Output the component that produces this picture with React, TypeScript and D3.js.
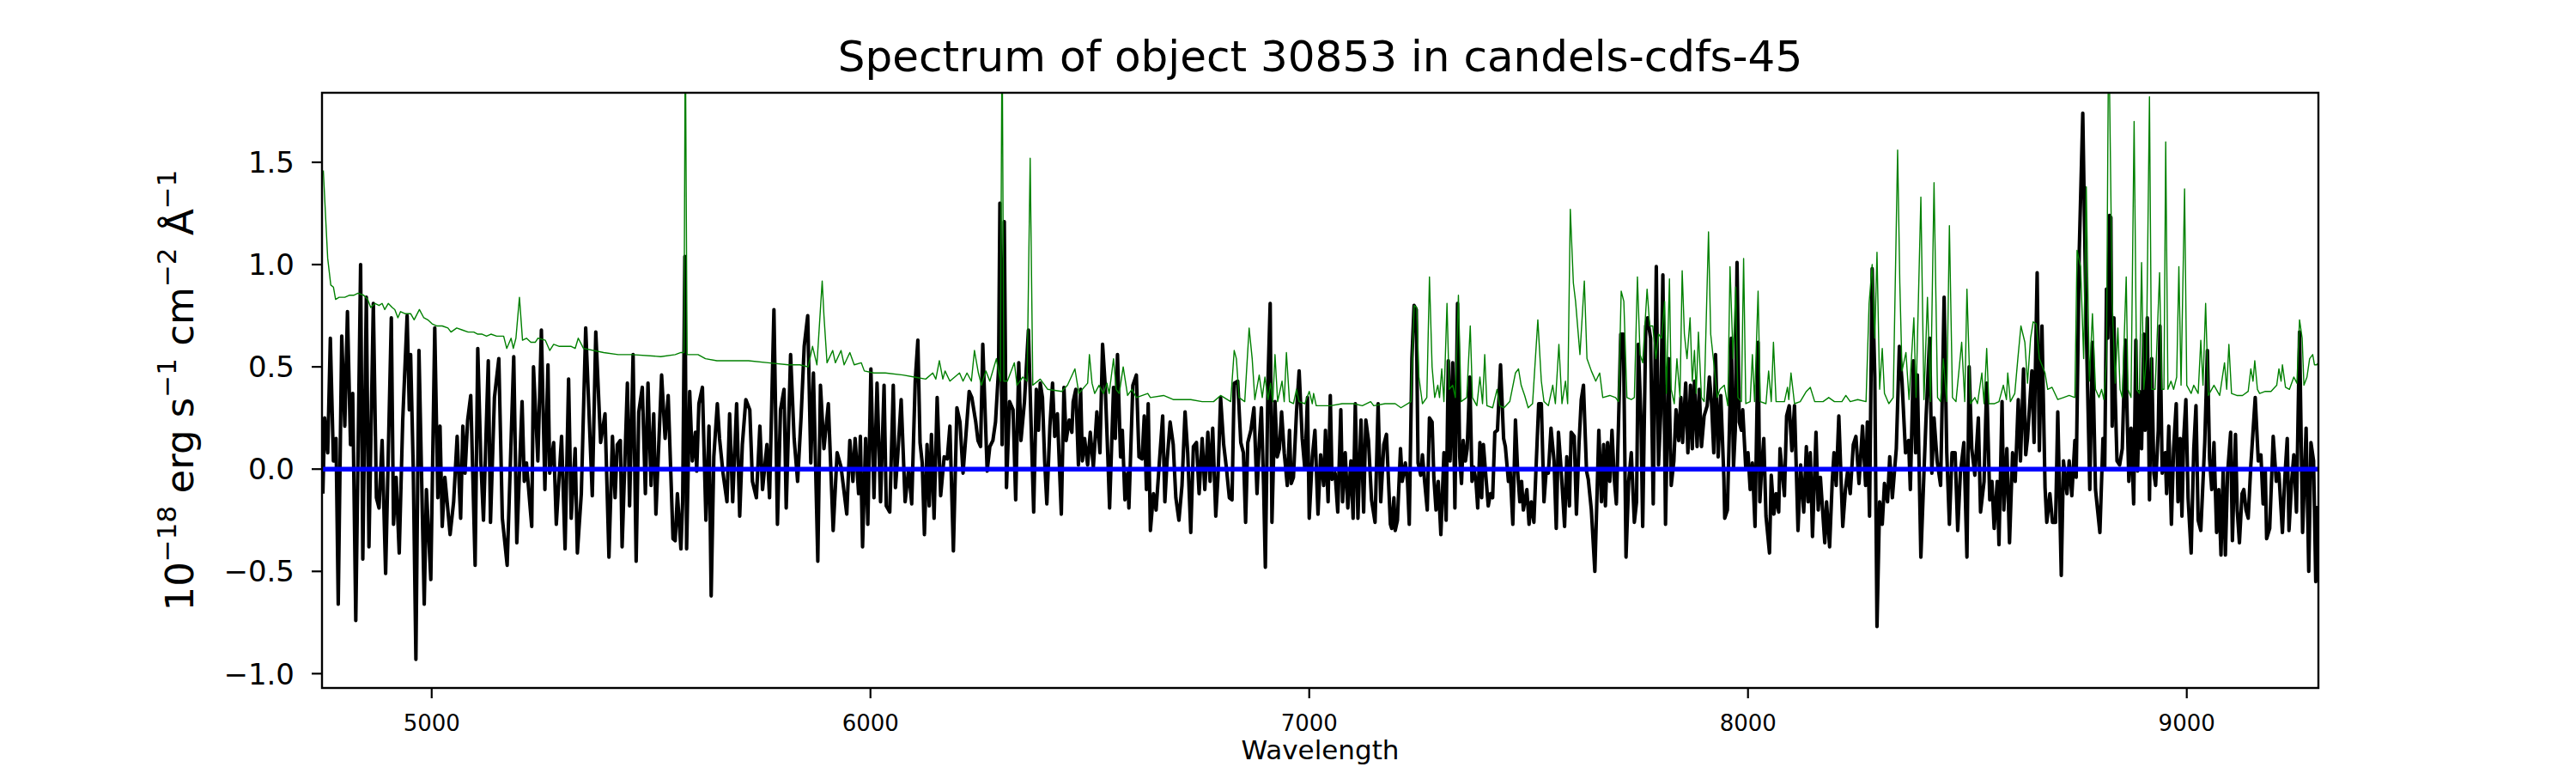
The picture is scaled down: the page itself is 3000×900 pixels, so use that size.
import * as React from "react";
import * as d3 from "d3";

// wavelength (Angstrom), flux (1e-18 erg/s/cm2/A)
const fluxSamples: [number, number][] = [
  [4752, -0.12], [4756, 0.25], [4763, 0.08], [4769, 0.64], [4776, 0.04], [4782, 0.15], [4787, -0.66], [4795, 0.65],
  [4802, 0.21], [4808, 0.77], [4815, 0.12], [4820, 0.37], [4827, -0.74], [4838, 1.0], [4843, -0.44], [4851, 0.84],
  [4857, -0.38], [4867, 0.81], [4874, -0.14], [4880, -0.19], [4887, 0.14], [4895, -0.51], [4908, 0.74], [4913, -0.27],
  [4919, -0.04], [4926, -0.41], [4934, 0.24], [4944, 0.75], [4949, 0.29], [4952, 0.56], [4958, 0.0], [4964, -0.93],
  [4971, 0.58], [4983, -0.66], [4988, -0.10], [4998, -0.54], [5007, 0.69], [5014, -0.14], [5019, 0.21], [5024, -0.28],
  [5030, -0.04], [5042, -0.32], [5050, -0.16], [5058, 0.16], [5066, -0.24], [5071, 0.21], [5076, -0.02], [5082, 0.24],
  [5089, 0.36], [5099, -0.47], [5105, 0.59], [5112, 0.04], [5118, -0.25], [5129, 0.53], [5134, -0.26], [5143, 0.35],
  [5153, 0.54], [5161, -0.24], [5172, -0.47], [5187, 0.55], [5194, -0.36], [5206, 0.33], [5211, -0.06], [5216, 0.03],
  [5228, -0.28], [5232, 0.50], [5242, 0.04], [5250, 0.68], [5258, -0.10], [5265, 0.51], [5269, -0.02], [5278, 0.13],
  [5284, -0.27], [5296, 0.16], [5304, -0.39], [5312, 0.44], [5318, -0.24], [5327, 0.10], [5332, -0.41], [5341, -0.12],
  [5351, 0.69], [5366, -0.13], [5374, 0.67], [5385, 0.13], [5395, 0.27], [5404, -0.43], [5412, 0.16], [5418, -0.14],
  [5423, 0.12], [5430, 0.14], [5434, -0.38], [5446, 0.42], [5451, -0.18], [5459, 0.56], [5466, -0.45], [5472, 0.28],
  [5480, 0.40], [5487, -0.12], [5493, 0.42], [5500, -0.08], [5506, 0.27], [5511, -0.22], [5524, 0.46], [5532, 0.15],
  [5539, 0.36], [5550, -0.34], [5555, -0.35], [5560, -0.12], [5568, -0.39], [5572, -0.16], [5577, 1.04], [5581, -0.39],
  [5588, 0.38], [5594, 0.04], [5601, 0.18], [5604, -0.01], [5609, 0.32], [5617, 0.40], [5625, -0.25], [5632, 0.21],
  [5637, -0.62], [5643, 0.06], [5651, 0.32], [5656, 0.15], [5664, -0.02], [5673, -0.16], [5679, 0.27], [5686, -0.16],
  [5695, 0.32], [5702, -0.23], [5708, 0.12], [5716, 0.34], [5725, 0.29], [5731, -0.06], [5740, -0.14], [5748, 0.21],
  [5754, -0.10], [5764, 0.12], [5770, -0.14], [5780, 0.78], [5788, -0.27], [5795, 0.29], [5803, 0.39], [5808, -0.19],
  [5818, 0.56], [5826, 0.15], [5834, -0.06], [5842, 0.26], [5849, 0.60], [5857, 0.75], [5864, 0.03], [5870, 0.47],
  [5880, -0.45], [5886, 0.41], [5894, 0.10], [5904, 0.32], [5915, -0.30], [5924, 0.08], [5933, 0.01], [5946, -0.22],
  [5953, 0.14], [5960, -0.06], [5965, 0.15], [5973, -0.12], [5977, 0.16], [5982, -0.38], [5989, 0.15], [5994, -0.27],
  [6001, 0.49], [6008, -0.14], [6015, 0.42], [6023, -0.16], [6031, 0.41], [6036, -0.18], [6044, -0.21], [6052, 0.41],
  [6057, -0.09], [6062, 0.06], [6070, 0.34], [6079, -0.16], [6087, 0.0], [6094, -0.17], [6102, 0.43], [6108, 0.63],
  [6113, 0.13], [6118, 0.03], [6123, -0.32], [6129, 0.12], [6134, -0.18], [6139, 0.17], [6145, -0.24], [6152, 0.35],
  [6160, -0.13], [6168, 0.06], [6175, 0.05], [6181, 0.21], [6189, -0.40], [6197, 0.30], [6204, 0.23], [6211, -0.02],
  [6217, 0.15], [6225, 0.38], [6231, 0.35], [6240, 0.23], [6245, 0.14], [6251, 0.11], [6256, 0.61], [6266, -0.01],
  [6272, 0.11], [6279, 0.14], [6285, 0.23], [6292, 0.49], [6295, 1.30], [6300, 0.12], [6305, 1.21], [6310, -0.09],
  [6317, 0.33], [6325, 0.29], [6331, -0.15], [6338, 0.52], [6343, 0.14], [6351, 0.33], [6360, 0.68], [6367, 0.15],
  [6372, -0.21], [6378, 0.39], [6383, 0.19], [6387, 0.42], [6392, 0.35], [6397, 0.04], [6402, -0.17], [6409, 0.21],
  [6415, 0.42], [6420, 0.16], [6426, 0.27], [6435, -0.22], [6441, 0.40], [6446, 0.14], [6453, 0.24], [6459, 0.18],
  [6462, 0.33], [6468, 0.39], [6474, 0.02], [6479, 0.39], [6483, 0.04], [6488, 0.15], [6495, 0.02], [6501, 0.18],
  [6508, 0.01], [6516, 0.28], [6523, 0.08], [6529, 0.61], [6535, 0.41], [6541, 0.06], [6545, -0.19], [6554, 0.40],
  [6558, 0.15], [6563, 0.56], [6570, 0.06], [6574, 0.19], [6580, -0.15], [6586, -0.02], [6589, -0.19], [6598, 0.41],
  [6606, 0.46], [6612, 0.06], [6619, 0.05], [6624, 0.26], [6629, -0.10], [6633, 0.32], [6638, -0.30], [6645, -0.12],
  [6651, -0.20], [6658, 0.02], [6666, 0.26], [6671, -0.16], [6676, 0.04], [6683, 0.23], [6690, 0.12], [6696, -0.14],
  [6703, -0.25], [6710, -0.08], [6717, 0.28], [6723, 0.08], [6730, -0.31], [6736, 0.11], [6743, 0.13], [6749, -0.12],
  [6756, 0.15], [6762, -0.10], [6769, 0.18], [6774, -0.06], [6780, 0.20], [6787, -0.23], [6792, -0.04], [6798, 0.35],
  [6805, 0.12], [6811, 0.01], [6818, -0.14], [6824, -0.15], [6829, 0.42], [6837, 0.43], [6844, 0.13], [6850, 0.08],
  [6855, -0.26], [6860, 0.13], [6867, 0.19], [6874, 0.30], [6881, -0.12], [6886, 0.13], [6891, 0.30], [6896, -0.08],
  [6900, -0.48], [6906, 0.43], [6911, 0.81], [6915, -0.26], [6922, 0.33], [6927, 0.06], [6932, 0.10], [6937, 0.28],
  [6943, 0.08], [6950, -0.08], [6955, 0.19], [6959, -0.07], [6964, -0.04], [6971, 0.28], [6977, 0.48], [6984, 0.15],
  [6990, 0.0], [6996, 0.35], [7000, -0.24], [7007, 0.06], [7013, 0.19], [7020, -0.22], [7026, 0.07], [7033, -0.08],
  [7037, 0.19], [7043, -0.16], [7048, 0.36], [7052, -0.05], [7059, -0.02], [7065, -0.21], [7072, 0.29], [7076, -0.16],
  [7082, 0.08], [7088, -0.19], [7095, 0.04], [7100, -0.24], [7105, 0.32], [7111, -0.24], [7118, 0.24], [7124, -0.21],
  [7129, 0.24], [7135, 0.14], [7142, -0.15], [7150, -0.26], [7157, 0.32], [7163, -0.16], [7170, 0.12], [7176, 0.17],
  [7185, -0.27], [7188, -0.29], [7193, -0.14], [7196, -0.30], [7201, -0.25], [7208, 0.10], [7212, -0.06], [7219, 0.03],
  [7224, -0.06], [7228, -0.27], [7234, 0.54], [7239, 0.80], [7244, 0.78], [7248, 0.03], [7254, -0.03], [7258, 0.07],
  [7263, -0.06], [7269, -0.20], [7274, 0.25], [7280, 0.23], [7284, -0.04], [7289, -0.20], [7294, -0.06], [7300, -0.32],
  [7307, 0.08], [7312, -0.25], [7317, 0.53], [7321, 0.04], [7327, 0.52], [7332, -0.19], [7338, 0.81], [7343, 0.06],
  [7347, -0.07], [7351, 0.14], [7356, 0.04], [7360, 0.10], [7366, 0.45], [7371, -0.06], [7375, 0.01], [7380, -0.06],
  [7384, -0.19], [7389, 0.13], [7393, -0.14], [7397, 0.12], [7402, -0.02], [7408, -0.18], [7413, -0.12], [7418, -0.14],
  [7423, 0.18], [7429, 0.19], [7436, 0.51], [7443, 0.15], [7447, 0.11], [7454, -0.06], [7458, -0.01], [7464, -0.27],
  [7470, 0.24], [7475, -0.01], [7480, -0.16], [7484, -0.06], [7488, -0.20], [7496, -0.10], [7501, -0.27], [7506, -0.16],
  [7512, -0.26], [7517, 0.01], [7523, 0.32], [7529, 0.32], [7535, -0.16], [7540, -0.01], [7545, -0.02], [7551, 0.20],
  [7558, 0.04], [7563, -0.29], [7568, 0.18], [7574, 0.0], [7582, -0.28], [7587, 0.06], [7593, -0.18], [7597, 0.18],
  [7604, 0.16], [7609, -0.22], [7615, 0.13], [7620, 0.34], [7625, 0.41], [7632, -0.01], [7636, -0.05], [7643, -0.20],
  [7651, -0.50], [7656, -0.12], [7660, 0.19], [7666, -0.16], [7671, 0.12], [7675, -0.18], [7680, 0.13], [7685, -0.06],
  [7690, 0.19], [7695, -0.04], [7700, -0.17], [7705, 0.23], [7710, 0.66], [7716, 0.66], [7722, -0.43], [7728, -0.06],
  [7734, 0.08], [7741, -0.26], [7746, -0.16], [7750, 0.61], [7756, 0.25], [7760, -0.28], [7767, 0.70], [7771, 0.74],
  [7778, 0.64], [7784, -0.17], [7791, 0.99], [7796, 0.02], [7801, 0.27], [7806, 0.95], [7812, -0.27], [7819, 0.54],
  [7825, -0.08], [7831, 0.04], [7836, 0.29], [7842, 0.14], [7847, 0.35], [7851, 0.13], [7858, 0.42], [7863, 0.08],
  [7869, 0.41], [7873, 0.10], [7878, 0.43], [7884, 0.11], [7889, 0.39], [7894, 0.11], [7900, 0.26], [7907, 0.31],
  [7912, 0.45], [7917, 0.32], [7922, 0.08], [7926, 0.56], [7932, 0.06], [7938, 0.36], [7945, -0.04], [7947, -0.24],
  [7953, -0.20], [7958, 0.23], [7962, 0.64], [7967, 0.01], [7971, 0.19], [7975, 1.01], [7980, 0.23], [7985, 0.19],
  [7988, 0.29], [7995, 0.0], [8000, 0.08], [8005, -0.10], [8010, 0.03], [8016, -0.28], [8023, 0.62], [8027, -0.16],
  [8031, 0.0], [8036, 0.15], [8041, -0.23], [8049, -0.41], [8053, -0.03], [8059, -0.22], [8064, -0.12], [8070, -0.21],
  [8073, 0.10], [8083, -0.13], [8088, 0.26], [8094, 0.31], [8100, 0.09], [8106, 0.31], [8114, -0.30], [8120, 0.02],
  [8127, -0.21], [8133, 0.11], [8137, -0.16], [8142, 0.08], [8147, -0.33], [8155, 0.18], [8160, -0.20], [8165, -0.04],
  [8175, -0.36], [8179, -0.16], [8186, -0.38], [8192, -0.06], [8196, 0.08], [8201, -0.08], [8207, 0.26], [8216, -0.28],
  [8222, -0.10], [8227, -0.01], [8233, -0.12], [8240, 0.12], [8246, 0.16], [8253, -0.07], [8261, 0.21], [8268, -0.08],
  [8272, 0.23], [8277, -0.23], [8283, 0.98], [8289, 0.45], [8294, -0.77], [8300, -0.16], [8306, -0.27], [8311, -0.07],
  [8318, -0.16], [8323, 0.06], [8329, -0.14], [8338, 0.10], [8345, 0.60], [8351, 0.43], [8359, 0.08], [8366, 0.14],
  [8370, -0.10], [8377, 0.53], [8382, 0.08], [8386, 0.46], [8394, -0.43], [8401, -0.02], [8406, 0.26], [8414, 0.64],
  [8419, -0.02], [8424, 0.25], [8431, 0.04], [8439, -0.08], [8447, 0.84], [8453, 0.08], [8459, -0.27], [8465, 0.08],
  [8472, 0.08], [8478, -0.30], [8484, -0.02], [8492, 0.13], [8499, -0.43], [8504, 0.50], [8510, 0.10], [8517, -0.03],
  [8525, 0.25], [8530, -0.21], [8538, -0.06], [8544, 0.42], [8551, -0.15], [8556, -0.06], [8561, -0.29], [8568, -0.06],
  [8572, -0.37], [8579, 0.33], [8583, -0.20], [8590, 0.10], [8596, -0.36], [8603, 0.08], [8609, -0.06], [8616, 0.34],
  [8621, 0.04], [8628, 0.49], [8633, 0.07], [8637, 0.15], [8643, 0.35], [8647, 0.48], [8652, 0.13], [8659, 0.96],
  [8664, 0.09], [8670, 0.70], [8677, -0.09], [8681, -0.26], [8688, -0.12], [8694, -0.26], [8701, -0.26], [8706, 0.28],
  [8714, -0.52], [8719, 0.04], [8727, -0.12], [8732, 0.04], [8738, -0.13], [8745, 0.14], [8748, -0.04], [8755, 1.07],
  [8763, 1.74], [8770, 0.79], [8779, -0.10], [8785, 0.62], [8792, -0.10], [8802, -0.31], [8809, 0.15], [8813, 0.0],
  [8817, 0.88], [8820, 0.64], [8824, 1.24], [8827, 1.23], [8830, 0.21], [8834, 0.74], [8837, 0.35], [8841, 0.04],
  [8847, 0.02], [8853, 0.10], [8860, 0.63], [8865, 0.19], [8868, -0.06], [8873, 0.20], [8879, -0.17], [8884, 0.63],
  [8888, -0.01], [8892, 0.38], [8897, 0.10], [8902, 0.66], [8905, 0.19], [8910, 0.74], [8915, -0.15], [8920, 0.54],
  [8925, -0.02], [8929, -0.08], [8935, 0.19], [8939, 0.70], [8944, -0.02], [8951, 0.08], [8954, -0.12], [8959, 0.21],
  [8965, -0.27], [8970, 0.10], [8976, 0.32], [8980, -0.16], [8985, 0.15], [8989, -0.23], [8993, 0.15], [8998, 0.34],
  [9003, -0.14], [9010, -0.41], [9016, 0.10], [9021, 0.31], [9026, -0.25], [9032, -0.30], [9041, 0.13], [9047, 0.58],
  [9052, 0.05], [9057, -0.10], [9062, 0.13], [9068, -0.31], [9073, -0.10], [9078, -0.42], [9083, 0.0], [9088, -0.42],
  [9093, -0.02], [9100, 0.18], [9104, -0.35], [9111, 0.17], [9115, -0.20], [9120, -0.36], [9126, -0.12], [9130, -0.10],
  [9135, -0.20], [9140, -0.24], [9146, 0.02], [9150, 0.15], [9156, 0.35], [9163, 0.04], [9169, 0.07], [9174, -0.17],
  [9179, -0.01], [9182, -0.34], [9189, -0.29], [9197, 0.16], [9204, -0.06], [9210, -0.02], [9218, -0.31], [9223, -0.06],
  [9229, 0.15], [9233, -0.30], [9239, -0.06], [9244, 0.07], [9250, -0.21], [9257, 0.67], [9264, -0.31], [9272, 0.20],
  [9278, -0.50], [9283, 0.13], [9289, 0.04], [9294, -0.55], [9299, -0.18],
];

// green curve (noise / sky), same units
const noiseSamples: [number, number][] = [
  [4753, 1.46], [4759, 1.2], [4763, 1.03], [4770, 0.90], [4776, 0.89], [4781, 0.83], [4789, 0.84], [4802, 0.84],
  [4812, 0.85], [4822, 0.85], [4832, 0.86], [4845, 0.85], [4854, 0.83], [4861, 0.79], [4871, 0.81], [4880, 0.80],
  [4887, 0.81], [4893, 0.78], [4901, 0.81], [4910, 0.79], [4916, 0.78], [4923, 0.74], [4929, 0.77], [4939, 0.76],
  [4952, 0.76], [4960, 0.73], [4972, 0.78], [4982, 0.74], [4991, 0.73], [5001, 0.71], [5011, 0.70], [5024, 0.70],
  [5037, 0.69], [5044, 0.67], [5057, 0.69], [5070, 0.68], [5083, 0.67], [5096, 0.67], [5105, 0.66], [5115, 0.66],
  [5125, 0.65], [5135, 0.66], [5148, 0.65], [5164, 0.65], [5171, 0.59], [5181, 0.64], [5186, 0.59], [5192, 0.64],
  [5200, 0.84], [5207, 0.63], [5216, 0.64], [5226, 0.62], [5236, 0.62], [5242, 0.64], [5259, 0.63], [5269, 0.58],
  [5278, 0.61], [5291, 0.60], [5318, 0.60], [5327, 0.59], [5334, 0.64], [5346, 0.59], [5392, 0.57], [5425, 0.56],
  [5457, 0.56], [5522, 0.55], [5555, 0.56], [5568, 0.57], [5575, 0.57], [5578, 2.2], [5582, 0.56], [5591, 0.56],
  [5607, 0.56], [5624, 0.54], [5650, 0.53], [5682, 0.53], [5722, 0.53], [5767, 0.52], [5813, 0.51], [5839, 0.51],
  [5858, 0.50], [5868, 0.60], [5878, 0.51], [5890, 0.92], [5894, 0.75], [5901, 0.52], [5914, 0.58], [5920, 0.52],
  [5933, 0.58], [5940, 0.51], [5953, 0.57], [5963, 0.51], [5979, 0.52], [5986, 0.48], [6008, 0.47], [6034, 0.47],
  [6074, 0.46], [6100, 0.45], [6126, 0.44], [6142, 0.47], [6149, 0.44], [6157, 0.53], [6165, 0.44], [6170, 0.48],
  [6181, 0.43], [6203, 0.47], [6211, 0.43], [6220, 0.47], [6230, 0.43], [6237, 0.58], [6246, 0.47], [6253, 0.41],
  [6263, 0.48], [6272, 0.43], [6287, 0.54], [6296, 0.43], [6300, 2.2], [6304, 0.43], [6312, 0.43], [6328, 0.52],
  [6334, 0.41], [6347, 0.45], [6357, 0.43], [6364, 1.52], [6370, 0.41], [6387, 0.44], [6404, 0.39], [6436, 0.38],
  [6449, 0.41], [6466, 0.49], [6475, 0.37], [6495, 0.42], [6499, 0.56], [6505, 0.42], [6511, 0.37], [6521, 0.41],
  [6531, 0.37], [6539, 0.42], [6544, 0.37], [6554, 0.54], [6560, 0.39], [6567, 0.37], [6576, 0.50], [6586, 0.36],
  [6596, 0.39], [6606, 0.35], [6632, 0.37], [6638, 0.35], [6668, 0.36], [6690, 0.34], [6730, 0.34], [6756, 0.33],
  [6782, 0.33], [6798, 0.36], [6821, 0.33], [6829, 0.58], [6834, 0.54], [6840, 0.35], [6853, 0.33], [6863, 0.69],
  [6870, 0.54], [6876, 0.34], [6886, 0.46], [6893, 0.35], [6899, 0.45], [6906, 0.34], [6912, 0.42], [6917, 0.33],
  [6922, 0.56], [6928, 0.33], [6938, 0.43], [6943, 0.33], [6948, 0.57], [6955, 0.33], [6964, 0.32], [6971, 0.39],
  [6977, 0.33], [6990, 0.32], [7000, 0.38], [7007, 0.32], [7010, 0.37], [7016, 0.31], [7049, 0.31], [7075, 0.32],
  [7101, 0.32], [7121, 0.31], [7140, 0.33], [7147, 0.31], [7173, 0.32], [7196, 0.32], [7209, 0.30], [7232, 0.33],
  [7239, 0.80], [7245, 0.79], [7250, 0.45], [7258, 0.32], [7268, 0.35], [7274, 0.94], [7280, 0.50], [7286, 0.35],
  [7293, 0.41], [7297, 0.35], [7302, 0.49], [7307, 0.33], [7314, 0.81], [7319, 0.39], [7327, 0.41], [7333, 0.35],
  [7340, 0.85], [7346, 0.33], [7359, 0.35], [7367, 0.70], [7372, 0.35], [7382, 0.31], [7389, 0.45], [7395, 0.32],
  [7400, 0.56], [7405, 0.31], [7418, 0.30], [7428, 0.39], [7434, 0.31], [7444, 0.30], [7457, 0.33], [7470, 0.47],
  [7477, 0.49], [7483, 0.41], [7491, 0.36], [7499, 0.30], [7509, 0.32], [7521, 0.73], [7529, 0.43], [7535, 0.33],
  [7545, 0.31], [7555, 0.41], [7561, 0.32], [7569, 0.61], [7576, 0.32], [7584, 0.43], [7589, 0.32], [7595, 1.27],
  [7602, 0.91], [7607, 0.82], [7617, 0.56], [7627, 0.92], [7633, 0.54], [7643, 0.48], [7653, 0.43], [7662, 0.47],
  [7669, 0.35], [7685, 0.36], [7698, 0.35], [7705, 0.33], [7711, 0.87], [7717, 0.82], [7724, 0.35], [7734, 0.34],
  [7741, 0.35], [7748, 0.94], [7754, 0.56], [7760, 0.52], [7770, 0.88], [7776, 0.70], [7783, 0.70], [7790, 0.54],
  [7796, 0.66], [7803, 0.64], [7810, 0.82], [7814, 0.37], [7821, 0.93], [7825, 0.39], [7832, 0.32], [7838, 0.54],
  [7845, 0.35], [7850, 0.97], [7855, 0.66], [7861, 0.54], [7868, 0.74], [7873, 0.43], [7878, 0.58], [7882, 0.37],
  [7887, 0.67], [7894, 0.35], [7900, 0.33], [7910, 1.16], [7915, 0.66], [7923, 0.50], [7930, 0.35], [7936, 0.39],
  [7946, 0.41], [7954, 0.31], [7959, 0.99], [7966, 0.54], [7972, 0.89], [7977, 0.35], [7985, 0.33], [7990, 1.03],
  [7995, 0.32], [8005, 0.33], [8010, 0.56], [8015, 0.33], [8023, 0.87], [8028, 0.33], [8041, 0.32], [8047, 0.48],
  [8053, 0.33], [8058, 0.62], [8064, 0.33], [8083, 0.33], [8090, 0.40], [8093, 0.34], [8098, 0.47], [8106, 0.32],
  [8119, 0.33], [8133, 0.38], [8142, 0.40], [8152, 0.33], [8171, 0.33], [8184, 0.35], [8197, 0.33], [8214, 0.33],
  [8223, 0.36], [8233, 0.33], [8250, 0.34], [8269, 0.33], [8276, 0.81], [8283, 1.00], [8289, 0.64], [8294, 1.06],
  [8300, 0.39], [8306, 0.59], [8311, 0.37], [8321, 0.32], [8331, 0.35], [8341, 1.56], [8346, 0.91], [8351, 0.48],
  [8360, 0.57], [8367, 0.34], [8378, 0.74], [8383, 0.35], [8394, 1.33], [8401, 0.34], [8409, 0.84], [8416, 0.33],
  [8424, 1.40], [8432, 0.35], [8439, 0.33], [8445, 0.54], [8453, 0.33], [8459, 1.19], [8466, 0.35], [8474, 0.33],
  [8487, 0.62], [8494, 0.33], [8499, 0.88], [8507, 0.32], [8517, 0.35], [8523, 0.32], [8533, 0.47], [8538, 0.32],
  [8544, 0.59], [8549, 0.32], [8562, 0.32], [8572, 0.33], [8582, 0.41], [8589, 0.34], [8592, 0.47], [8598, 0.33],
  [8608, 0.37], [8615, 0.54], [8622, 0.70], [8631, 0.62], [8637, 0.42], [8644, 0.64], [8650, 0.72], [8657, 0.71],
  [8664, 0.54], [8677, 0.47], [8683, 0.39], [8693, 0.40], [8706, 0.34], [8719, 0.35], [8732, 0.36], [8745, 0.35],
  [8750, 1.07], [8758, 0.99], [8765, 0.54], [8771, 1.38], [8778, 0.43], [8785, 0.76], [8792, 0.39], [8800, 0.35],
  [8806, 0.39], [8811, 0.34], [8817, 0.54], [8822, 2.2], [8826, 1.52], [8830, 0.82], [8837, 0.42], [8843, 0.69],
  [8848, 0.39], [8853, 0.35], [8862, 0.94], [8866, 0.39], [8873, 0.35], [8880, 1.70], [8886, 0.39], [8892, 0.37],
  [8897, 1.01], [8902, 0.39], [8908, 0.54], [8915, 1.82], [8920, 0.39], [8928, 0.39], [8938, 0.96], [8943, 0.39],
  [8948, 0.39], [8952, 1.60], [8957, 0.39], [8964, 0.43], [8970, 0.39], [8977, 0.45], [8982, 0.99], [8987, 0.41],
  [8995, 1.37], [9000, 0.41], [9010, 0.37], [9016, 0.41], [9026, 0.37], [9032, 0.63], [9037, 0.41], [9043, 0.81],
  [9049, 0.36], [9062, 0.41], [9075, 0.36], [9086, 0.52], [9091, 0.39], [9096, 0.61], [9102, 0.37], [9114, 0.36],
  [9127, 0.36], [9140, 0.38], [9146, 0.49], [9151, 0.43], [9155, 0.53], [9161, 0.39], [9166, 0.37], [9179, 0.38],
  [9192, 0.38], [9205, 0.41], [9210, 0.49], [9215, 0.43], [9218, 0.51], [9225, 0.40], [9234, 0.39], [9244, 0.45],
  [9251, 0.42], [9257, 0.73], [9263, 0.64], [9267, 0.41], [9274, 0.45], [9280, 0.54], [9287, 0.56], [9291, 0.51],
  [9296, 0.51], [9300, 0.52],
];

const waveRange = [4750, 9300];
const fluxRange = [-1.07, 1.84];
const waveTicks = [5000, 6000, 7000, 8000, 9000];
const fluxTicks = [-1.0, -0.5, 0.0, 0.5, 1.0, 1.5];
const zeroLevel = 0;

const W = 3000;
const H = 900;
const margin = { left: 375, right: 300, top: 108, bottom: 99 };
const font = "DejaVu Sans";

const fmt = (v: number) => (v < 0 ? "\u2212" : "") + Math.abs(v).toFixed(1);

export default function App() {
    const x = d3.scaleLinear().domain(waveRange).range([margin.left, W - margin.right]);
    const y = d3.scaleLinear().domain(fluxRange).range([H - margin.bottom, margin.top]);

    const line = d3.line<[number, number]>()
        .x(d => x(d[0]))
        .y(d => y(d[1]));

    const x0 = margin.left, x1 = W - margin.right;
    const y0 = margin.top, y1 = H - margin.bottom;
    const cx = (x0 + x1) / 2;

    return <div style={{ position: "absolute", left: 0, top: 0, background: "white" }}>
        <svg width={W} height={H} viewBox={`0 0 ${W} ${H}`} style={{ display: "block" }}>
            <rect width={W} height={H} fill="white" />
            <defs>
                <clipPath id="plotArea">
                    <rect x={x0} y={y0} width={x1 - x0} height={y1 - y0} />
                </clipPath>
            </defs>

            <g clipPath="url(#plotArea)">
                <path d={line(fluxSamples) || ""} fill="none" stroke="black" strokeWidth={4.1} strokeLinejoin="round" />
                <path d={line(noiseSamples) || ""} fill="none" stroke="#008000" strokeWidth={1.4} strokeLinejoin="round" />
                <line x1={x(waveRange[0])} x2={x(waveRange[1])} y1={y(zeroLevel)} y2={y(zeroLevel)} stroke="#0000ff" strokeWidth={5.5} />
            </g>

            <rect x={x0} y={y0} width={x1 - x0} height={y1 - y0} fill="none" stroke="black" strokeWidth={2.4} />

            {waveTicks.map(t => <g key={t}>
                <line x1={x(t)} x2={x(t)} y1={y1} y2={y1 + 12} stroke="black" strokeWidth={2.2} />
                <text x={x(t)} y={851} textAnchor="middle" fontFamily={font} fontSize={26}>{t}</text>
            </g>)}

            {fluxTicks.map(t => <g key={t}>
                <line x1={x0 - 12} x2={x0} y1={y(t)} y2={y(t)} stroke="black" strokeWidth={2.2} />
                <text x={343} y={y(t)} dy="0.36em" textAnchor="end" fontFamily={font} fontSize={34}>{fmt(t)}</text>
            </g>)}

            <text x={cx} y={83} textAnchor="middle" fontFamily={font} fontSize={50}>Spectrum of object 30853 in candels-cdfs-45</text>
            <text x={cx} y={884} textAnchor="middle" fontFamily={font} fontSize={31}>Wavelength</text>

            <text transform={`translate(225,${(y0 + y1) / 2}) rotate(-90)`} textAnchor="middle" fontFamily={font} fontSize={45}>
                <tspan>10</tspan>
                <tspan fontSize={31} dy={-20}>{"\u221218"}</tspan>
                <tspan dy={20}>{" erg s"}</tspan>
                <tspan fontSize={31} dy={-20}>{"\u22121"}</tspan>
                <tspan dy={20}>{" cm"}</tspan>
                <tspan fontSize={31} dy={-20}>{"\u22122"}</tspan>
                <tspan dy={20}>{" \u00c5"}</tspan>
                <tspan fontSize={31} dy={-20}>{"\u22121"}</tspan>
            </text>
        </svg>
    </div>;
}
